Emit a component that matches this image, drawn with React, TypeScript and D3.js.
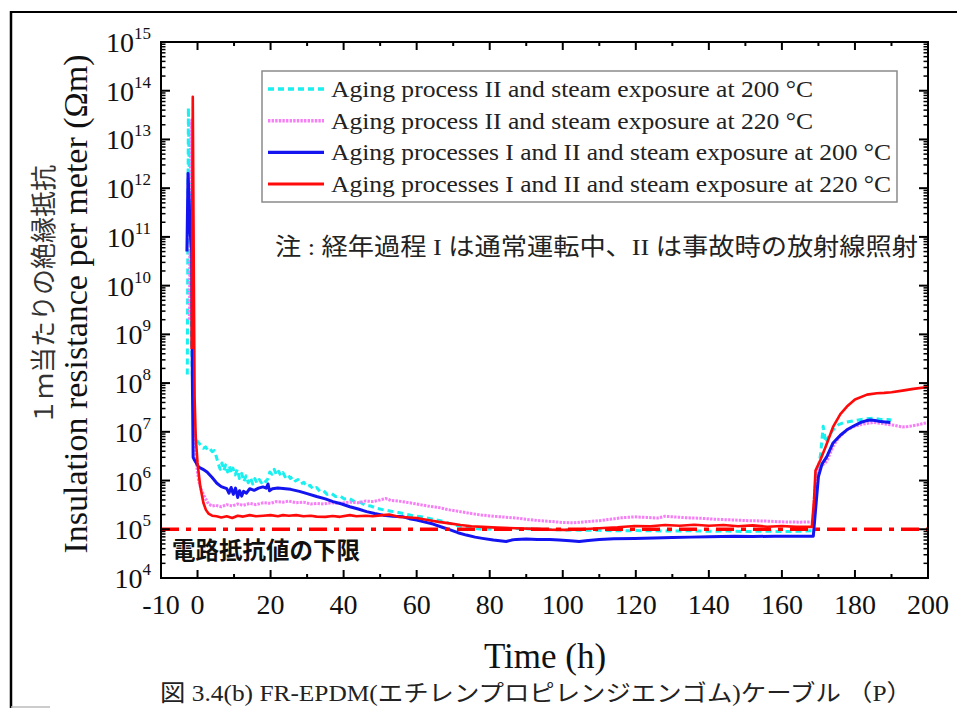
import React from 'react';
import * as d3 from 'd3';

// time (h), insulation resistance per meter (Ωm)
const cyanII200: [number, number][] = [
  [-2.8, 1.5e8], [-2.5, 4.5e13], [-2.1, 2e11], [-1.7, 1e9], [-1.3, 6e7], [-0.9, 1.5e7], [-0.4, 7e6],
  [0.3, 6e6], [1.0, 5.2e6], [1.6, 4.6e6], [2.2, 4.9e6], [2.8, 4.2e6], [3.4, 4.5e6], [4.0, 3.9e6],
  [4.6, 4.1e6], [5.2, 3.0e6], [5.7, 2.2e6], [6.2, 1.7e6], [6.7, 2.3e6], [7.2, 1.6e6], [7.7, 2.1e6],
  [8.2, 1.5e6], [8.7, 2.0e6], [9.2, 1.4e6], [9.7, 1.8e6], [10.3, 1.3e6], [10.9, 1.7e6], [11.5, 1.1e6],
  [12.1, 1.4e6], [12.7, 0.95e6], [13.3, 1.25e6], [13.9, 0.9e6], [14.5, 1.15e6], [15.1, 0.85e6],
  [15.7, 1.1e6], [16.3, 0.88e6], [16.9, 1.05e6], [17.5, 0.9e6], [18.1, 1.05e6], [18.7, 0.95e6],
  [19.3, 1.1e6], [19.8, 1.5e6], [20.4, 1.35e6], [21.0, 1.7e6], [21.6, 1.3e6], [22.2, 1.55e6],
  [22.8, 1.25e6], [23.4, 1.45e6], [24.0, 1.2e6], [24.7, 1.35e6], [25.4, 1.1e6], [26.1, 1.2e6],
  [26.8, 0.98e6], [27.5, 1.05e6], [28.3, 0.85e6], [29.1, 0.92e6], [29.9, 0.75e6], [30.8, 0.8e6],
  [31.7, 0.66e6], [32.6, 0.72e6], [33.5, 0.6e6], [34.5, 0.62e6], [35.5, 0.52e6], [36.6, 0.55e6],
  [37.8, 0.47e6], [39.0, 0.48e6], [40.2, 0.42e6], [41.5, 0.43e6], [43.0, 0.37e6], [44.5, 0.36e6],
  [46.0, 0.31e6], [47.5, 0.3e6], [49.0, 0.27e6], [51, 0.25e6], [53, 0.235e6], [55, 0.22e6],
  [57, 0.205e6], [59, 0.19e6], [61.8, 0.178e6], [64.5, 0.16e6], [67.3, 0.145e6], [70, 0.125e6],
  [72.8, 0.112e6], [75.5, 0.105e6], [78, 1.0e5], [82, 1.02e5], [86, 1.04e5], [90, 1.02e5],
  [95, 1.0e5], [100, 0.97e5], [105, 0.96e5], [110, 0.95e5], [115, 0.93e5], [120, 0.94e5],
  [125, 0.93e5], [130, 0.92e5], [135, 0.93e5], [140, 0.91e5], [145, 0.92e5], [150, 0.9e5],
  [155, 0.91e5], [160, 0.9e5], [165, 0.91e5], [168.5, 0.94e5], [169.2, 3e5], [169.8, 1.5e6],
  [170.6, 3.5e6], [171.3, 1.3e7], [172.0, 6e6], [172.8, 8e6], [174, 1.1e7], [175.5, 1.4e7],
  [177, 1.55e7], [179, 1.65e7], [181, 1.75e7], [183, 1.85e7], [185, 1.9e7], [187, 1.8e7],
  [189, 1.78e7], [190, 1.75e7],
];

const pinkII220: [number, number][] = [
  [-2.2, 2e9], [-1.9, 8e12], [-1.6, 2.5e13], [-1.3, 1e11], [-1.1, 1e8], [-0.8, 1.1e7], [-0.3, 2.2e6],
  [0.3, 1.0e6], [1.0, 6.5e5], [1.9, 4.7e5], [3.0, 3.3e5], [4.0, 3.0e5], [5.0, 3.1e5], [6.5, 2.9e5],
  [8, 3.2e5], [9.5, 3.0e5], [11, 3.3e5], [12.5, 3.1e5], [14.3, 3.4e5], [16, 3.2e5], [18, 3.5e5],
  [20, 3.4e5], [21.5, 3.7e5], [23.4, 3.6e5], [25, 3.8e5], [27, 3.5e5], [29, 3.6e5], [31, 3.3e5],
  [32.6, 3.4e5], [34.5, 3.3e5], [36.5, 3.5e5], [38.5, 3.4e5], [41.7, 3.6e5], [44, 3.5e5],
  [46, 3.8e5], [48, 3.7e5], [50, 4.0e5], [51.5, 4.3e5], [53, 3.9e5], [55, 3.8e5], [57, 3.6e5],
  [60, 3.3e5], [63, 3.0e5], [66, 2.8e5], [69, 2.5e5], [72, 2.3e5], [75, 2.1e5], [78, 1.95e5],
  [81, 1.85e5], [84, 1.78e5], [87.3, 1.7e5], [90, 1.6e5], [93, 1.52e5], [96.5, 1.45e5],
  [100, 1.38e5], [103, 1.36e5], [106, 1.42e5], [110, 1.5e5], [113, 1.6e5], [116, 1.72e5],
  [119.7, 1.8e5], [123, 1.75e5], [126, 1.7e5], [128, 1.85e5], [130, 1.8e5], [134, 1.72e5],
  [138, 1.68e5], [142, 1.6e5], [147, 1.55e5], [151, 1.5e5], [155, 1.48e5], [160, 1.42e5],
  [165, 1.4e5], [168.5, 1.42e5], [169.0, 6e5], [169.6, 1.6e6], [170.5, 1.9e6], [171.5, 2.2e6],
  [172.3, 2.5e6], [173.2, 3.6e6], [174, 5e6], [175.5, 7.5e6], [177.8, 1.1e7], [180, 1.3e7],
  [181.5, 1.4e7], [183.5, 1.5e7], [185, 1.55e7], [187, 1.5e7], [189, 1.42e7], [191, 1.35e7],
  [193, 1.25e7], [195, 1.3e7], [197, 1.38e7], [199, 1.5e7], [200, 1.55e7],
];

const blueI_II200: [number, number][] = [
  [-2.9, 5e10], [-2.6, 2e12], [-2.3, 6e11], [-2.0, 1.2e11], [-1.6, 5e10], [-1.4, 1e8], [-1.2, 3e6],
  [-0.8, 2.6e6], [0.3, 1.9e6], [1.5, 1.7e6], [2.6, 1.5e6], [4.0, 1.15e6], [5.3, 0.88e6],
  [6.5, 0.75e6], [8.0, 0.68e6], [8.6, 0.55e6], [9.2, 0.72e6], [9.8, 0.52e6], [10.4, 0.7e6],
  [11.0, 0.45e6], [11.5, 0.62e6], [12.1, 0.48e6], [12.6, 0.6e6], [13.4, 0.55e6], [14.3, 0.68e6],
  [15.5, 0.63e6], [16.7, 0.7e6], [17.9, 0.74e6], [18.8, 0.7e6], [19.3, 0.85e6], [19.7, 0.62e6],
  [20.5, 0.68e6], [22, 0.7e6], [23.4, 0.69e6], [25.5, 0.66e6], [27.9, 0.6e6], [30, 0.54e6],
  [32.6, 0.47e6], [35, 0.42e6], [37.1, 0.37e6], [39.5, 0.33e6], [41.7, 0.29e6], [44, 0.26e6],
  [46.3, 0.23e6], [48.5, 0.21e6], [50.8, 0.195e6], [53.5, 0.185e6], [56.3, 0.18e6], [58, 0.165e6],
  [60, 0.155e6], [62.3, 0.14e6], [64.5, 0.128e6], [67, 0.11e6], [69, 0.098e6], [71.3, 0.085e6],
  [73.6, 0.076e6], [76, 0.069e6], [78, 0.065e6], [81, 0.06e6], [84.5, 0.056e6], [86, 0.06e6],
  [87.3, 0.062e6], [90, 0.063e6], [93, 0.062e6], [96.5, 0.062e6], [99, 0.06e6], [102, 0.058e6],
  [104.5, 0.056e6], [107, 0.059e6], [110, 0.062e6], [114, 0.064e6], [119.7, 0.065e6],
  [125, 0.066e6], [130, 0.068e6], [135, 0.069e6], [140, 0.07e6], [147, 0.072e6], [152, 0.071e6],
  [158, 0.072e6], [164, 0.072e6], [168.6, 0.072e6], [169.3, 3e5], [170, 1.2e6], [171, 2.2e6],
  [172.3, 3.1e6], [174, 5.9e6], [176, 8.5e6], [177.8, 1.1e7], [179.5, 1.3e7], [181.5, 1.55e7],
  [183, 1.68e7], [184.2, 1.74e7], [185.5, 1.7e7], [187, 1.62e7], [189.7, 1.55e7],
];

const redI_II220: [number, number][] = [
  [-1.6, 5e8], [-1.3, 7.5e13], [-1.0, 1e10], [-0.8, 5e7], [-0.5, 8e6], [0, 2.3e6], [0.7, 8e5],
  [1.6, 3.5e5], [2.3, 2.5e5], [3.0, 2.1e5], [4.0, 1.9e5], [5.2, 1.85e5], [6.5, 1.75e5], [8, 1.85e5],
  [9.5, 1.7e5], [11, 1.9e5], [12.5, 1.82e5], [14.3, 1.95e5], [16, 1.85e5], [18, 1.9e5],
  [20, 1.95e5], [22, 1.85e5], [23.4, 1.95e5], [25, 1.9e5], [27, 1.95e5], [29, 1.85e5], [31, 1.9e5],
  [32.6, 1.82e5], [35, 1.8e5], [37, 1.87e5], [39, 1.8e5], [41.7, 1.95e5], [43.5, 1.85e5],
  [46, 1.9e5], [48, 1.85e5], [50.8, 1.95e5], [52.5, 2.0e5], [55, 1.8e5], [58, 1.75e5], [60, 1.7e5],
  [63, 1.55e5], [66, 1.42e5], [69, 1.32e5], [72, 1.22e5], [75, 1.15e5], [78, 1.12e5], [82, 1.08e5],
  [87.3, 1.05e5], [92, 1.02e5], [96.5, 0.98e5], [101, 0.97e5], [105, 1.0e5], [110, 1.05e5],
  [115, 1.1e5], [119.7, 1.17e5], [124, 1.15e5], [128, 1.22e5], [132, 1.18e5], [136, 1.24e5],
  [140, 1.18e5], [144, 1.22e5], [148, 1.15e5], [152, 1.2e5], [156, 1.13e5], [160, 1.17e5],
  [164, 1.12e5], [168.2, 1.12e5], [168.8, 4e5], [169.2, 1.6e6], [170.5, 2.6e6], [172, 5e6],
  [174, 1.26e7], [176, 2.3e7], [177.8, 3.3e7], [180, 4.6e7], [183.3, 5.8e7], [186, 6.2e7],
  [188, 6.3e7], [190, 6.5e7], [193, 7e7], [196, 7.6e7], [200, 8.3e7],
];

const xTickLabels = [-10, 0, 20, 40, 60, 80, 100, 120, 140, 160, 180, 200];
const yExponents = [4, 5, 6, 7, 8, 9, 10, 11, 12, 13, 14, 15];
const lowerLimit = 1e5;

const legendLabels = [
  'Aging process II and steam exposure at 200 °C',
  'Aging process II and steam exposure at 220 °C',
  'Aging processes I and II and steam exposure at 200 °C',
  'Aging processes I and II and steam exposure at 220 °C',
];
// rendered widths of the legend lines in the figure
const legendWidths = [482, 482, 560, 560];

const SERIF = '"Liberation Serif", "DejaVu Serif", serif';
const JP = '"Noto Sans CJK JP", sans-serif';
const MIX = '"Liberation Serif", "Noto Sans CJK JP", serif';

const series = [
  { data: cyanII200, color: '#19f0f0', width: 3, dash: '6,4' },
  { data: pinkII220, color: '#f77ef7', width: 3, dash: '2.4,1.2' },
  { data: blueI_II200, color: '#1414f0', width: 3, dash: undefined },
  { data: redI_II220, color: '#ff0a0a', width: 2.6, dash: undefined },
];

export default function App() {
  const left = 161, right = 928, top = 42, bottom = 578;
  const x = d3.scaleLinear().domain([-10, 200]).range([left, right]);
  const y = d3.scaleLog().domain([1e4, 1e15]).range([bottom, top]);
  const line = d3.line<[number, number]>().x(d => x(d[0])).y(d => y(d[1]));

  const xMajor = d3.range(0, 201, 20);
  const xMinor = d3.range(10, 200, 20);
  const yMinor: number[] = [];
  for (let e = 4; e < 15; e++) for (let k = 2; k <= 9; k++) yMinor.push(k * Math.pow(10, e));

  return (
    <div style={{ position: 'absolute', left: 0, top: 0 }}>
      <svg width={957} height={708} style={{ display: 'block', background: '#fff' }}>
        {/* outer frame */}
        <line x1={11} x2={11} y1={11} y2={708} stroke="#000" strokeWidth={2.5} />
        <line x1={10} x2={957} y1={12} y2={12} stroke="#000" strokeWidth={2} />
        <line x1={11} x2={50} y1={707} y2={707} stroke="#bbb" strokeWidth={1.5} />

        <defs>
          <clipPath id="plot">
            <rect x={left} y={top} width={right - left} height={bottom - top} />
          </clipPath>
        </defs>

        {/* data */}
        <g clipPath="url(#plot)">
          {series.map((s, i) => (
            <path key={i} d={line(s.data) || ''} fill="none" stroke={s.color}
              strokeWidth={s.width} strokeDasharray={s.dash} strokeLinejoin="round" />
          ))}
          <line x1={x(-10)} x2={x(200)} y1={y(lowerLimit)} y2={y(lowerLimit)}
            stroke="#ff0000" strokeWidth={3.5} strokeDasharray="18,7,5,7" />
        </g>

        {/* axes frame */}
        <rect x={left} y={top} width={right - left} height={bottom - top} fill="none" stroke="#000" strokeWidth={2} />
        {xMajor.map(t => (
          <g key={'xm' + t}>
            <line x1={x(t)} x2={x(t)} y1={bottom} y2={bottom - 8} stroke="#000" strokeWidth={2} />
            <line x1={x(t)} x2={x(t)} y1={top} y2={top + 8} stroke="#000" strokeWidth={2} />
          </g>
        ))}
        {xMinor.map(t => (
          <g key={'xn' + t}>
            <line x1={x(t)} x2={x(t)} y1={bottom} y2={bottom - 4} stroke="#000" strokeWidth={2} />
            <line x1={x(t)} x2={x(t)} y1={top} y2={top + 4} stroke="#000" strokeWidth={2} />
          </g>
        ))}
        {yExponents.map(e => (
          <g key={'ym' + e}>
            <line x1={left} x2={left + 9} y1={y(Math.pow(10, e))} y2={y(Math.pow(10, e))} stroke="#000" strokeWidth={2} />
            <line x1={right} x2={right - 9} y1={y(Math.pow(10, e))} y2={y(Math.pow(10, e))} stroke="#000" strokeWidth={2} />
          </g>
        ))}
        {yMinor.map((v, i) => (
          <g key={'yn' + i}>
            <line x1={left} x2={left + 4.5} y1={y(v)} y2={y(v)} stroke="#000" strokeWidth={1.5} />
            <line x1={right} x2={right - 4.5} y1={y(v)} y2={y(v)} stroke="#000" strokeWidth={1.5} />
          </g>
        ))}

        {/* tick labels */}
        {xTickLabels.map(t => (
          <text key={'xl' + t} x={x(t)} y={614} textAnchor="middle" fontFamily={SERIF} fontSize={28} fill="#111">
            {t}
          </text>
        ))}
        {yExponents.map(e => (
          <text key={'yl' + e} x={151} y={y(Math.pow(10, e)) + 10} textAnchor="end" fontFamily={SERIF} fontSize={28} fill="#111">
            10<tspan fontSize={17} dy={-13}>{e}</tspan>
          </text>
        ))}

        {/* axis titles */}
        <text x={545} y={668} textAnchor="middle" fontFamily={SERIF} fontSize={35} fill="#111">Time (h)</text>
        <text transform="translate(87,304) rotate(-90)" textAnchor="middle" fontFamily={SERIF} fontSize={34} fill="#111">
          Insulation resistance per meter (Ωm)
        </text>
        <text transform="translate(53,295) rotate(-90)" textAnchor="middle" fontFamily={JP} fontSize={26} fill="#333">
          １ｍ当たりの絶縁抵抗
        </text>

        {/* legend */}
        <rect x={262} y={71} width={635} height={131} fill="#fff" stroke="#8a8a8a" strokeWidth={1.5} />
        {legendLabels.map((lab, i) => {
          const ly = 89 + i * 31.7;
          const s = series[i];
          return (
            <g key={'lg' + i}>
              <line x1={268} x2={324} y1={ly} y2={ly} stroke={s.color} strokeWidth={s.width + 0.4} strokeDasharray={s.dash} />
              <text x={331} y={ly + 8} fontFamily={SERIF} fontSize={24} fill="#222"
                textLength={legendWidths[i]} lengthAdjust="spacingAndGlyphs">{lab}</text>
            </g>
          );
        })}

        {/* annotations */}
        <text x={275} y={255} fontFamily={MIX} fontSize={24} fill="#222" textLength={643} lengthAdjust="spacingAndGlyphs">
          注 : 経年過程 I は通常運転中、II は事故時の放射線照射
        </text>
        <text x={172} y={559} fontFamily={JP} fontSize={23.5} fontWeight="bold" fill="#111">電路抵抗値の下限</text>

        {/* caption */}
        <text x={536} y={701} textAnchor="middle" fontFamily={MIX} fontSize={23} fill="#222"
          textLength={752} lengthAdjust="spacingAndGlyphs">
          図 3.4(b) FR-EPDM(エチレンプロピレンジエンゴム)ケーブル （P）
        </text>
      </svg>
    </div>
  );
}
